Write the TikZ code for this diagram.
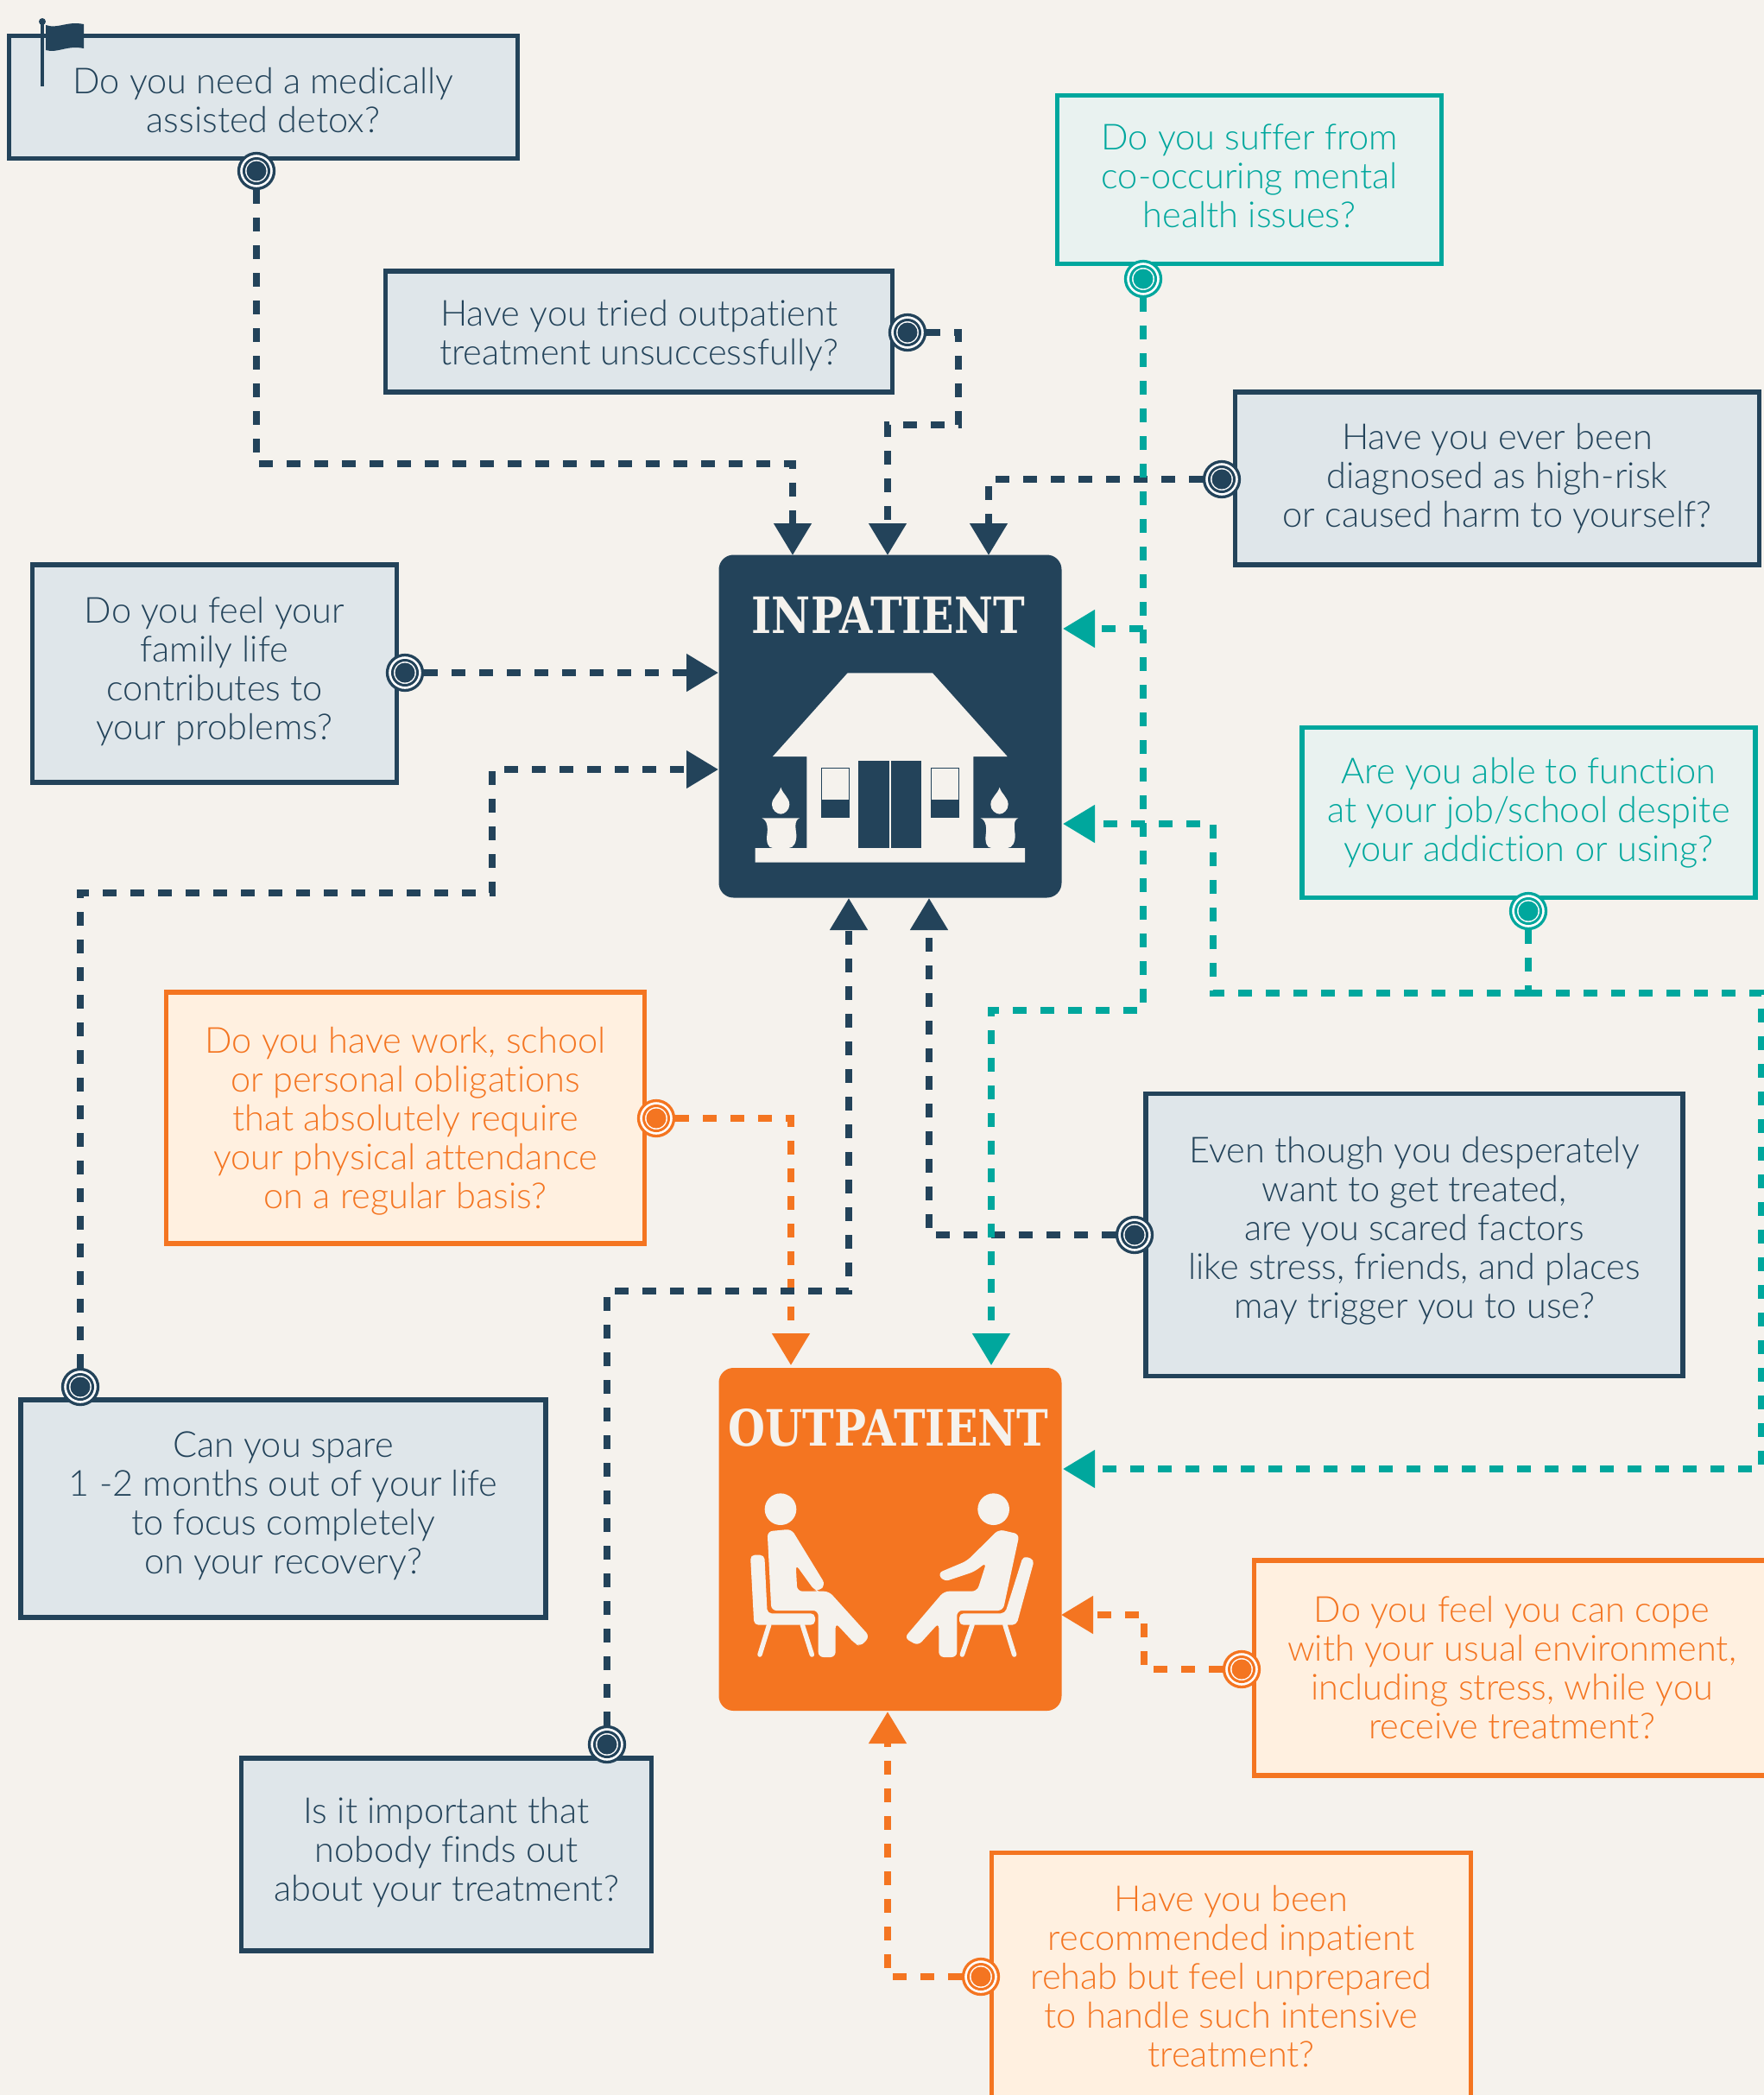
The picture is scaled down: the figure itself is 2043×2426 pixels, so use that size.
\documentclass[tikz,border=0pt]{standalone}
\usepackage{fontspec}
\setmainfont{Lato Light}[Ligatures=NoCommon]
\newfontfamily\slabfont{DejaVu Serif}
\usetikzlibrary{arrows.meta}
\definecolor{paper}{HTML}{F5F2ED}
\definecolor{ink}{HTML}{23435A}
\definecolor{teal}{HTML}{00A79D}
\definecolor{tangerine}{HTML}{F47521}
\definecolor{inkfill}{HTML}{DFE6EA}
\definecolor{tealfill}{HTML}{E9F2F0}
\definecolor{tangfill}{HTML}{FFF0E0}
\newcommand{\sinktext}[1]{\rule{0pt}{#1pt}}
\newcommand{\lifttext}[1]{\rule[-#1pt]{0pt}{0pt}}
\tikzset{
	qbox/.style={rectangle, line width=5.5pt, align=center, inner sep=0pt,
	font=\fontsize{41.5}{45}\selectfont},
	inkbox/.style={qbox, draw=ink, fill=inkfill, text=ink},
	tealbox/.style={qbox, draw=teal, fill=tealfill, text=teal},
	tangbox/.style={qbox, draw=tangerine, fill=tangfill, text=tangerine}
}
\tikzset{
	tgt/.style={circle, draw=#1, fill=white, line width=3.3pt, minimum size=41pt, inner sep=0pt,
	path picture={
		\draw[#1, line width=3pt] (path picture bounding box.center) circle (14.5);
		\fill[#1] (path picture bounding box.center) circle (11.5);
	}}
}
\tikzset{
	link/.style={draw=#1, line width=8pt, dash pattern=on 16pt off 16pt,
	-{Triangle[length=37pt,width=42pt]}},
	stub/.style={draw=#1, line width=8pt, dash pattern=on 16pt off 16pt},
	hub/.style={rectangle, rounded corners=17pt, minimum width=397pt, minimum height=397pt, inner sep=0pt},
	hubtitle/.style={text=paper, inner sep=0pt, xscale=.85, font=\slabfont\bfseries\fontsize{58}{58}\selectfont},
	icon/.style={x=.33333pt, y=-.33333pt}
}
\begin{document}
\begin{tikzpicture}[x=1pt, y=-1pt]
	\useasboundingbox (0,0) rectangle (2043,2426);
	\fill[paper] (0,0) rectangle (2043,2426);

	\node (detox) [inkbox, minimum width=589pt, minimum height=142pt] at (305,112.5) {\sinktext{37}Do you need a medically\\assisted detox?};
	\node (tried) [inkbox, minimum width=587pt, minimum height=140pt] at (740,384) {\sinktext{40}Have you tried outpatient\\treatment unsuccessfully?};
	\node (suffer) [tealbox, minimum width=445pt, minimum height=195pt] at (1447,208) {Do you suffer from\\co-occuring mental\\health issues?\lifttext{9}};
	\node (risk) [inkbox, minimum width=607pt, minimum height=200pt] at (1734,554) {Have you ever been\\diagnosed as high-risk\\or caused harm to yourself?};
	\node (family) [inkbox, minimum width=422pt, minimum height=252pt] at (248.5,780) {Do you feel your\\family life\\contributes to\\your problems?\lifttext{13}};
	\node (function) [tealbox, minimum width=525pt, minimum height=197pt] at (1770.5,941) {Are you able to function\\at your job/school despite\\your addiction or using?};
	\node (duty) [tangbox, minimum width=554pt, minimum height=291pt] at (469.5,1294.5) {\sinktext{37}Do you have work, school\\or personal obligations\\that absolutely require\\your physical attendance\\on a regular basis?};
	\node (scared) [inkbox, minimum width=622pt, minimum height=327pt] at (1638,1430) {Even though you desperately\\want to get treated,\\are you scared factors\\like stress, friends, and places\\may trigger you to use?\lifttext{18}};
	\node (spare) [inkbox, minimum width=608pt, minimum height=252pt] at (328,1747) {Can you spare\\1 -2 months out of your life\\to focus completely\\on your recovery?\lifttext{13}};
	\node (nobody) [inkbox, minimum width=475pt, minimum height=223pt] at (517,2147.5) {Is it important that\\nobody finds out\\about your treatment?\lifttext{12}};
	\node (cope) [tangbox, minimum width=597pt, minimum height=249pt] at (1751,1931.5) {Do you feel you can cope\\with your usual environment,\\including stress, while you\\receive treatment?};
	\node (advised) [tangbox, minimum width=555pt, minimum height=294pt] at (1426,2292.5) {Have you been\\recommended inpatient\\rehab but feel unprepared\\to handle such intensive\\treatment?\lifttext{9}};

	\node (inbox) [hub, fill=ink] at (1031,841) {};
	\node (outbox) [hub, fill=tangerine] at (1031,1782.5) {};
	\node (intitle) [hubtitle] at (1029,712) {INPATIENT};
	\node (outtitle) [hubtitle] at (1029,1653) {OUTPATIENT};

	\coordinate (inT1) at (918,643);
	\coordinate (inT2) at (1028,643);
	\coordinate (inT3) at (1145,643);
	\coordinate (inL1) at (832,779);
	\coordinate (inL2) at (832,891);
	\coordinate (inB1) at (983,1040);
	\coordinate (inB2) at (1076,1040);
	\coordinate (inR1) at (1231,728);
	\coordinate (inR2) at (1231,954);
	\coordinate (outT1) at (916,1581);
	\coordinate (outT2) at (1148,1581);
	\coordinate (outR1) at (1231,1701);
	\coordinate (outR2) at (1229,1870);
	\coordinate (outB1) at (1028,1982);
	\coordinate (jSuffer) at (1324,728);
	\coordinate (jFunction) at (1770,1150);

	\node (tDetox) [tgt=ink] at (297,198) {};
	\node (tTried) [tgt=ink] at (1051,385) {};
	\node (tSuffer) [tgt=teal] at (1324,323) {};
	\node (tRisk) [tgt=ink] at (1415,555) {};
	\node (tFamily) [tgt=ink] at (469,779) {};
	\node (tFunction) [tgt=teal] at (1770,1055) {};
	\node (tDuty) [tgt=tangerine] at (760,1295) {};
	\node (tScared) [tgt=ink] at (1314,1430) {};
	\node (tSpare) [tgt=ink] at (93,1606) {};
	\node (tNobody) [tgt=ink] at (703,2020) {};
	\node (tCope) [tgt=tangerine] at (1438,1933) {};
	\node (tAdvised) [tgt=tangerine] at (1136,2289) {};

	\draw[link=tangerine] (tDuty) -| (outT1);
	\draw[link=tangerine] (tCope) -| (1325,1870) -- (outR2);
	\draw[link=tangerine] (tAdvised) -| (outB1);

	\draw[link=ink] (tDetox) |- (918,537) -- (inT1);
	\draw[link=ink] (tTried) -| (1110,492) -| (inT2);
	\draw[link=ink] (tRisk) -| (inT3);
	\draw[link=ink] (tFamily) -- (inL1);
	\draw[link=ink] (tSpare) |- (570,1034) |- (inL2);
	\draw[link=ink] (tNobody) |- (983,1495) -- (inB1);
	\draw[link=ink] (tScared) -| (inB2);

	\draw[link=teal] (tSuffer) |- (1148,1170) -- (outT2);
	\draw[link=teal] (jSuffer) -- (inR1);
	\draw[stub=teal] (tFunction) -- (jFunction);
	\draw[link=teal] (jFunction) -| (1405,954) -- (inR2);
	\draw[link=teal] (jFunction) -| (2040,1701) -- (outR1);

	\begin{scope}[shift={(49,0)}]
		\draw[ink, line width=3.5pt] (0,25) -- (0,100);
		\fill[ink] (0,25) circle (4);
		\fill[ink] (4,29) .. controls (18,34) and (28,24) .. (48,28) -- (48,56) .. controls (28,52) and (18,62) .. (4,58) -- cycle;
	\end{scope}

	\begin{scope}[shift={(800,620)}, icon]
		\fill[paper] (545,478) -- (840,478) -- (1100,768) -- (982,768) -- (982,1086) -- (1161,1086) -- (1161,1136) -- (224,1136) -- (224,1086) -- (403,1086) -- (403,768) -- (285,768) -- cycle;
		\fill[ink] (583,784) rectangle (689,1086);
		\fill[ink] (696,784) rectangle (802,1086);
		\foreach \winx in {452,833} {
			\fill[ink] (\winx,806) rectangle ++(100,176);
			\fill[paper] (\winx+4,810) rectangle ++(92,108);
		}
		\foreach \potx in {0,760} {
			\begin{scope}[shift={(\potx,0)}]
				\fill[paper] (313,875) .. controls (320,900) and (343,910) .. (343,935) .. controls (343,955) and (325,968) .. (313,968) .. controls (300,968) and (282,955) .. (282,935) .. controls (282,910) and (306,900) .. (313,875) -- cycle;
				\fill[paper] (247,982) -- (378,982) .. controls (358,990) and (365,1020) .. (367,1040) .. controls (368,1065) and (358,1086) .. (340,1086) -- (285,1086) .. controls (268,1086) and (262,1065) .. (265,1040) .. controls (268,1020) and (268,990) .. (247,982) -- cycle;
			\end{scope}
		}
	\end{scope}

	\begin{scope}[shift={(800,1560)}, icon]
		\fill[paper] (312,563) circle (55);
		\fill[paper] (1052,563) circle (55);
		\fill[paper, rounded corners=6pt] (266,640) -- (350,632) -- (468,825) -- (445,848) -- (430,845) -- (365,755) -- (370,848) -- (480,848) -- (622,1005) -- (590,1040) -- (570,1030) -- (503,958) -- (503,1077) -- (443,1077) -- (443,915) -- (280,915) -- cycle;
		\fill[paper, rounded corners=6pt] (1070,633) -- (1142,650) -- (1085,915) -- (925,915) -- (925,1077) -- (862,1077) -- (862,958) -- (790,1037) -- (742,1010) -- (880,848) -- (995,848) -- (1027,748) -- (985,780) -- (880,815) -- (858,785) -- (960,742) -- cycle;
		\fill[paper, rounded corners=5pt] (207,722) -- (256,722) -- (266,925) -- (432,925) -- (432,965) -- (220,965) -- cycle;
		\fill[paper, rounded corners=5pt] (1155,725) -- (1194,738) -- (1132,965) -- (933,965) -- (933,925) -- (1092,925) -- cycle;
		\draw[paper, line width=5.5pt, line cap=round] (272,965) -- (240,1068);
		\draw[paper, line width=5.5pt, line cap=round] (388,965) -- (421,1068);
		\draw[paper, line width=5.5pt, line cap=round] (978,965) -- (943,1068);
		\draw[paper, line width=5.5pt, line cap=round] (1092,965) -- (1124,1068);
	\end{scope}
\end{tikzpicture}
\end{document}
